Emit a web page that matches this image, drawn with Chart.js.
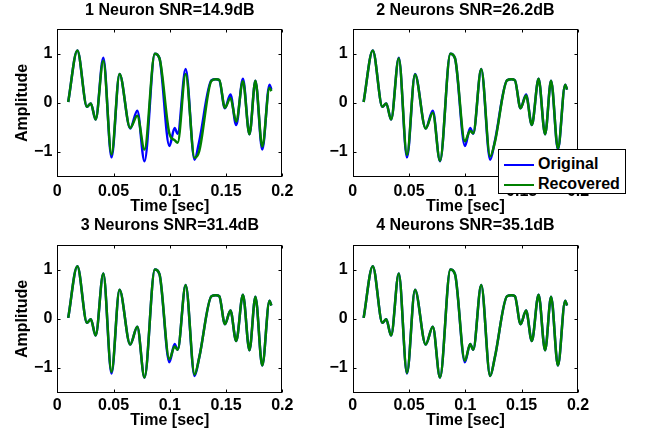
<!DOCTYPE html>
<html>
<head>
<meta charset="utf-8">
<script src="https://cdn.jsdelivr.net/npm/chart.js@4.4.0/dist/chart.umd.min.js"></script>
<style>
  body { margin: 0; background: #fff; width: 645px; height: 436px; position: relative; overflow: hidden; font-family: "Liberation Sans", Arial, sans-serif; }
  canvas { position: absolute; }
  #legend { position: absolute; left: 498px; top: 149px; width: 126px; height: 43px; border: 1px solid #000; background: #fff; font-weight: bold; font-size: 16px; }
  #legend .row { position: absolute; left: 5px; height: 20px; line-height: 20px; white-space: nowrap; }
  #legend .swatch { display: inline-block; width: 30px; height: 2px; vertical-align: middle; margin-right: 4px; }
</style>
</head>
<body>
<canvas id="c1"></canvas>
<canvas id="c2"></canvas>
<canvas id="c3"></canvas>
<canvas id="c4"></canvas>
<div id="legend"></div>
<script>
// time samples (sec) at the turning points of the waveform
const times = [0.0097, 0.0178, 0.0264, 0.0298, 0.0341, 0.0409, 0.0482, 0.0553, 0.0648, 0.0711,
               0.0775, 0.0867, 0.0908, 0.0996, 0.1043, 0.1070, 0.1141, 0.1220, 0.1262, 0.1370,
               0.1410, 0.1440, 0.1490, 0.1539, 0.1590, 0.1650, 0.1708, 0.1761, 0.1822, 0.1886, 0.1903];

const original   = [0.02, 1.07, -0.08, -0.01, -0.34, 0.92, -1.11, 0.59, -0.52, -0.16,
                    -1.19, 1.00, 0.91, -0.88, -0.51, -0.63, 0.69, -1.16, -0.78, 0.46,
                    0.48, 0.46, -0.11, 0.17, -0.45, 0.49, -0.64, 0.45, -0.95, 0.37, 0.27];
const recovered1 = [0.02, 1.07, -0.08, -0.01, -0.34, 0.86, -1.05, 0.59, -0.51, -0.26,
                    -0.95, 1.00, 0.91, -0.62, -0.76, -0.81, 0.59, -1.12, -0.98, 0.45,
                    0.48, 0.47, -0.10, 0.10, -0.38, 0.44, -0.64, 0.45, -0.89, 0.31, 0.24];
const recovered2 = [0.02, 1.07, -0.08, -0.01, -0.34, 0.91, -1.06, 0.58, -0.52, -0.20,
                    -1.18, 1.00, 0.91, -0.78, -0.57, -0.62, 0.69, -1.09, -0.80, 0.46,
                    0.48, 0.46, -0.11, 0.15, -0.45, 0.49, -0.64, 0.45, -0.93, 0.37, 0.27];
const recovered3 = [0.02, 1.07, -0.08, -0.01, -0.34, 0.92, -1.08, 0.59, -0.52, -0.16,
                    -1.19, 1.00, 0.91, -0.82, -0.56, -0.63, 0.69, -1.13, -0.78, 0.46,
                    0.48, 0.46, -0.11, 0.17, -0.45, 0.49, -0.64, 0.45, -0.95, 0.37, 0.27];
const recovered4 = [0.02, 1.07, -0.08, -0.01, -0.34, 0.92, -1.10, 0.59, -0.52, -0.16,
                    -1.19, 1.00, 0.91, -0.85, -0.51, -0.63, 0.69, -1.16, -0.78, 0.46,
                    0.48, 0.46, -0.11, 0.17, -0.45, 0.49, -0.64, 0.45, -0.95, 0.37, 0.27];

const titles = ['1 Neuron SNR=14.9dB', '2 Neurons SNR=26.2dB', '3 Neurons SNR=31.4dB', '4 Neurons SNR=35.1dB'];
const recovered = [recovered1, recovered2, recovered3, recovered4];
const seriesNames = ['Original', 'Recovered'];
const seriesColors = ['#0000ff', '#008000'];
const xTicks = [0, 0.05, 0.1, 0.15, 0.2];
const yTicks = [-1, 0, 1];

const FONT = { family: '"Liberation Sans", Arial, sans-serif', size: 16, weight: 'bold' };

// where each subplot sits on the page
const panels = [
  { id: 'c1', left: 0,   top: 0,   w: 300, h: 220, yW: 57.3, rPad: 17.7, yTitle: true,  tTop: 1.2, tBot: 8.9, xH: 43.5, xPad: 5.5, xtPad: 3.4 },
  { id: 'c2', left: 300, top: 0,   w: 345, h: 220, yW: 52.7, rPad: 67,   yTitle: false, tTop: 1.2, tBot: 8.9, xH: 43.5, xPad: 5.5, xtPad: 3.4 },
  { id: 'c3', left: 0,   top: 215, w: 300, h: 221, yW: 57.3, rPad: 17.7, yTitle: true,  tTop: 1.4, tBot: 9.4, xH: 43.3, xPad: 3.5, xtPad: 5.9 },
  { id: 'c4', left: 300, top: 215, w: 345, h: 221, yW: 52.7, rPad: 67,   yTitle: false, tTop: 1.4, tBot: 9.4, xH: 43.3, xPad: 3.5, xtPad: 5.9 }
];

// MATLAB-style box with inward tick marks
const boxPlugin = {
  id: 'box',
  afterDraw(chart) {
    const { ctx, chartArea: a, scales } = chart;
    const L = Math.round(a.left) + 0.5, R = Math.round(a.right) - 0.5;
    const T = Math.round(a.top) + 0.5, B = Math.round(a.bottom) - 0.5;
    const len = 3;
    ctx.save();
    ctx.strokeStyle = '#000';
    ctx.lineWidth = 1;
    ctx.strokeRect(L, T, R - L, B - T);
    ctx.beginPath();
    scales.x.ticks.forEach(t => {
      const px = Math.round(scales.x.getPixelForValue(t.value)) + 0.5;
      ctx.moveTo(px, B); ctx.lineTo(px, B - len);
      ctx.moveTo(px, T); ctx.lineTo(px, T + len);
    });
    scales.y.ticks.forEach(t => {
      const py = Math.round(scales.y.getPixelForValue(t.value)) + 0.5;
      ctx.moveTo(L, py); ctx.lineTo(L + len, py);
      ctx.moveTo(R, py); ctx.lineTo(R - len, py);
    });
    ctx.stroke();
    ctx.restore();
  }
};

function toPoints(values) {
  return times.map((t, i) => ({ x: t, y: values[i] }));
}

const charts = panels.map((p, i) => {
  const canvas = document.getElementById(p.id);
  canvas.width = p.w;
  canvas.height = p.h;
  canvas.style.left = p.left + 'px';
  canvas.style.top = p.top + 'px';

  return new Chart(canvas, {
    type: 'line',
    data: {
      datasets: [
        { label: seriesNames[0], data: toPoints(original), borderColor: seriesColors[0], borderWidth: 2.5, order: 1 },
        { label: seriesNames[1], data: toPoints(recovered[i]), borderColor: seriesColors[1], borderWidth: 2.5, order: 0 }
      ]
    },
    options: {
      responsive: false,
      animation: false,
      devicePixelRatio: 1,
      elements: { point: { radius: 0 }, line: { cubicInterpolationMode: 'monotone', fill: false } },
      layout: { padding: { left: 0, right: p.rPad, top: 0, bottom: 0 } },
      plugins: {
        legend: { display: false },
        tooltip: { enabled: false },
        title: {
          display: true, text: titles[i], fullSize: false, color: '#000', font: FONT,
          padding: { top: p.tTop, bottom: p.tBot }
        }
      },
      scales: {
        x: {
          type: 'linear', min: 0, max: 0.2,
          afterBuildTicks: s => { s.ticks = xTicks.map(v => ({ value: v })); },
          afterFit: s => { s.height = p.xH; },
          ticks: { color: '#000', font: FONT, padding: p.xPad, maxRotation: 0, autoSkip: false, callback: v => String(v) },
          grid: { display: false, drawTicks: false },
          border: { display: false },
          title: { display: true, text: 'Time [sec]', color: '#000', font: FONT, padding: { top: 0, bottom: p.xtPad } }
        },
        y: {
          type: 'linear', min: -1.5, max: 1.5,
          afterBuildTicks: s => { s.ticks = yTicks.map(v => ({ value: v })); },
          afterFit: s => { s.width = p.yW; },
          ticks: { color: '#000', font: FONT, padding: 5, callback: v => v < 0 ? '\u2212' + (-v) : String(v) },
          grid: { display: false, drawTicks: false },
          border: { display: false },
          title: { display: p.yTitle, text: 'Amplitude', color: '#000', font: FONT, padding: { top: 13, bottom: 0 } }
        }
      }
    },
    plugins: [boxPlugin]
  });
});

// legend box overlapping the upper-right subplot
const legend = document.getElementById('legend');
charts[1].data.datasets.forEach((ds, k) => {
  const row = document.createElement('div');
  row.className = 'row';
  row.style.top = (4 + k * 20) + 'px';
  row.innerHTML = '<span class="swatch" style="background:' + ds.borderColor + '"></span>' + ds.label;
  legend.appendChild(row);
});
</script>
</body>
</html>
